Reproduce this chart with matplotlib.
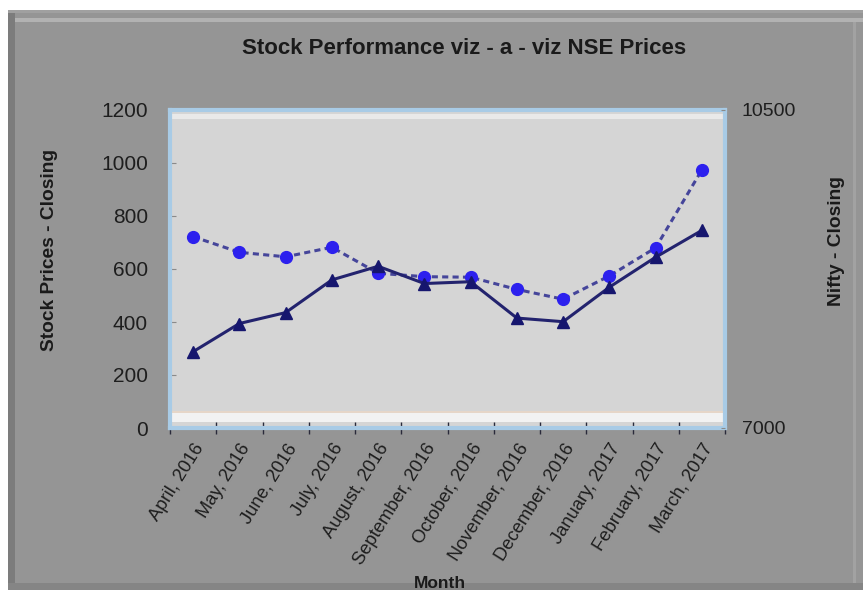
import matplotlib
matplotlib.use("Agg")
import matplotlib.pyplot as plt
from matplotlib.patches import Rectangle
from matplotlib.transforms import ScaledTranslation

plt.rcParams['font.family'] = ['Liberation Sans', 'DejaVu Sans']

months = ["April, 2016", "May, 2016", "June, 2016", "July, 2016", "August, 2016",
          "September, 2016", "October, 2016", "November, 2016", "December, 2016",
          "January, 2017", "February, 2017", "March, 2017"]
stock_close = [722, 663, 646, 682, 584, 571, 569, 523, 486, 574, 680, 974]
nifty_close = [7840, 8150, 8270, 8630, 8780, 8590, 8610, 8210, 8170, 8550, 8880, 9175]
left_ticks = [0, 200, 400, 600, 800, 1000, 1200]
right_ticks = [7000, 10500]

W, H = 863, 590
fig = plt.figure(figsize=(W / 100, H / 100), dpi=100)
fig.patch.set_facecolor('white')

def px(x0, y0, x1, y1, color):
    fig.patches.append(Rectangle((x0 / W, 1 - y1 / H), (x1 - x0) / W, (y1 - y0) / H,
                                 transform=fig.transFigure, facecolor=color,
                                 edgecolor='none', zorder=-10))

# outer grey panel with bevel
px(8, 10, W, H, '#959595')
px(8, 10, 15, H, '#7c7c7c')
px(15, 18, W, 22, '#b2b2b2')
px(8, 10, W, 13, '#a0a0a0')
px(8, 583, W, H, '#858585')
px(853, 22, 856, 583, '#a2a2a2')

ax = fig.add_axes([170 / W, 1 - 428 / H, (725 - 170) / W, (428 - 110) / H])
ax.set_zorder(1)
ax.set_facecolor('#d5d5d5')
for s in ax.spines.values():
    s.set_color('#a8cbe6')
    s.set_linewidth(3)

# inner wall highlights
ax.add_patch(Rectangle((0, 0.019), 1, 0.028, transform=ax.transAxes,
                       facecolor='#f2f2f2', edgecolor='none', zorder=0.5))
ax.add_patch(Rectangle((0, 0.047), 1, 0.005, transform=ax.transAxes,
                       facecolor='#e6d6c8', edgecolor='none', zorder=0.5))
ax.add_patch(Rectangle((0, 0.972), 1, 0.014, transform=ax.transAxes,
                       facecolor='#e9e9e9', edgecolor='none', zorder=0.5))

x = list(range(len(months)))
ax.plot(x, stock_close, linestyle=(0, (2, 1.4)), color='#45459a', lw=2.2,
        marker='o', ms=8.5, mfc='#2c20ee', mec='#2c20ee', zorder=3)
ax.set_ylim(0, 1200)
ax.set_xlim(-0.5, 11.5)
ax.set_yticks(left_ticks)
ax.set_yticklabels([str(v) for v in left_ticks])
ax.tick_params(axis='y', direction='in', length=4, color='#8a8a8a', pad=16,
               labelsize=15, labelcolor='#1e1e1e')

ax.set_xticks(x)
ax.set_xticklabels(months, rotation=58, ha='right', rotation_mode='anchor',
                   fontsize=13.2, color='#1e1e1e')
offset = ScaledTranslation(-0.05, -0.04, fig.dpi_scale_trans)
for lab in ax.get_xticklabels():
    lab.set_transform(lab.get_transform() + offset)
ax.set_xticks([i - 0.5 for i in range(len(months) + 1)], minor=True)
ax.tick_params(axis='x', which='major', length=0, pad=9)
ax.tick_params(axis='x', which='minor', direction='inout', length=8,
               color='#2a2a3a', width=1)

ax2 = ax.twinx()
ax2.set_zorder(2)
ax2.patch.set_visible(False)
ax2.plot(x, nifty_close, linestyle='-', color='#23236e', lw=2.2,
         marker='^', ms=9, mfc='#16166e', mec='#16166e', zorder=3)
ax2.set_ylim(7000, 10500)
ax2.set_yticks(right_ticks)
ax2.set_yticklabels([str(v) for v in right_ticks])
ax2.tick_params(axis='y', direction='in', length=3, color='#8a8a8a', pad=12,
                labelsize=14, labelcolor='#1e1e1e')
for s in ax2.spines.values():
    s.set_visible(False)

fig.text(464 / W, 1 - 48 / H, "Stock Performance viz - a - viz NSE Prices",
         ha='center', va='center', fontsize=16, fontweight='bold', color='#1a1a1a')
fig.text(50 / W, 1 - 250 / H, "Stock Prices - Closing", rotation=90,
         ha='center', va='center', fontsize=13.8, fontweight='bold', color='#1a1a1a')
fig.text(836 / W, 1 - 241 / H, "Nifty - Closing", rotation=90,
         ha='center', va='center', fontsize=13.8, fontweight='bold', color='#1a1a1a')
fig.text(440 / W, 1 - 584 / H, "Month", ha='center', va='center',
         fontsize=12.5, fontweight='bold', color='#1a1a1a')

fig.savefig("out.png", dpi=100, facecolor=fig.get_facecolor())
